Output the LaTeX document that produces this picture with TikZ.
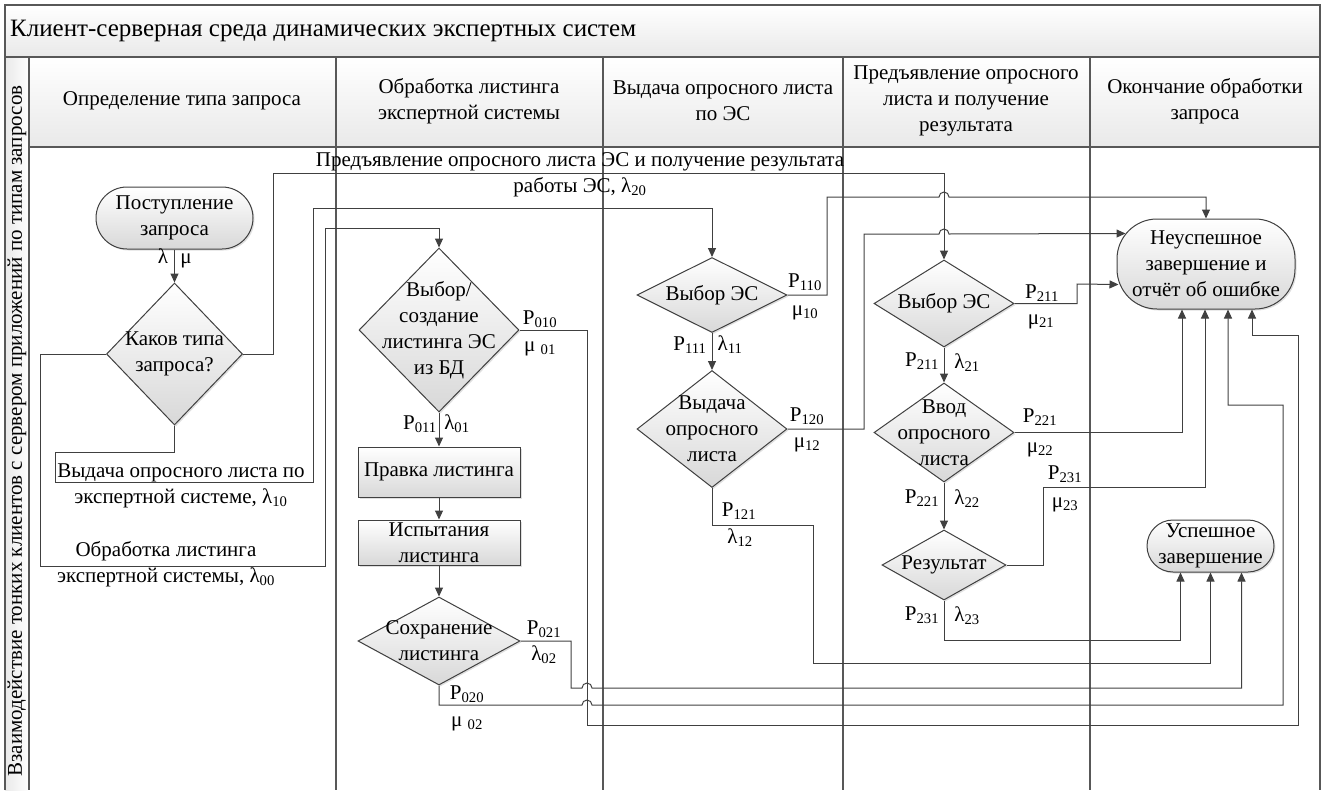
\documentclass[tikz,border=0pt]{standalone}
\usepackage{fontspec}
\setmainfont{Liberation Serif}
\usetikzlibrary{arrows.meta,positioning,calc,shapes.geometric,shadows}
\definecolor{ink}{HTML}{404040}
\definecolor{rule}{HTML}{585858}
\definecolor{shade}{HTML}{D8D8D8}
\definecolor{band}{HTML}{E9E9E9}

\begin{document}
\begin{tikzpicture}[x=1pt,y=-1pt,
  every node/.style={font=\fontsize{21}{26}\selectfont},
  link/.style={draw=ink,line width=1pt},
  flow/.style={link,-{Triangle[length=9pt,width=8pt]}},
  box/.style={draw=ink,line width=1pt,top color=white,bottom color=shade,inner sep=0pt,align=center,
    drop shadow={opacity=.25,shadow xshift=1.5pt,shadow yshift=-1.5pt}},
  proc/.style={box,rectangle,minimum width=162pt},
  dec/.style={box,diamond},
  term/.style={box,rectangle},
  lbl/.style={inner sep=0pt,align=center},
  tag/.style={inner sep=0pt,text height=14pt,text depth=5pt}]
  \useasboundingbox (0,0) rectangle (1322,790);
  \fill[top color=white,bottom color=band] (5,5) rectangle (1320,57);
  \fill[top color=white,bottom color=band] (29,57) rectangle (1320,147);
  \fill[left color=band,right color=white] (5,57) rectangle (29,790);
  \draw[rule,line width=1.2pt] (5,790) -- (5,5) -- (1320,5) -- (1320,790);
  \draw[rule,line width=1.2pt] (5,57) -- (1320,57) (29,57) -- (29,790) (29,147) -- (1320,147);
  \foreach \x in {336,603,843,1090}
    \draw[rule,line width=1.2pt] (\x,57) -- (\x,790);
  \node[lbl,anchor=west,font=\fontsize{25}{30}\selectfont] (title) at (10,31) {Клиент-серверная среда динамических экспертных систем};
  \node[lbl,rotate=90] (side) at (17,431) {Взаимодействие тонких клиентов с сервером приложений по типам запросов};
  \node[lbl] (h1) at (182,101) {Определение типа запроса};
  \node[lbl] (h2) at (469,101) {Обработка листинга\\экспертной системы};
  \node[lbl] (h3) at (723,101) {Выдача опросного листа\\по ЭС};
  \node[lbl] (h4) at (966,101) {Предъявление опросного\\листа и получение\\результата};
  \node[lbl] (h5) at (1205,101) {Окончание обработки\\запроса};

  \node[term,minimum width=157pt,minimum height=62pt,rounded corners=31pt] (start) at (174.5,218) {Поступление\\запроса};
  \node[dec,minimum width=136pt,minimum height=142pt,label={[lbl]center:{Каков типа\\запроса?}}] (q) at (174.5,354) {};
  \node[dec,minimum width=160pt,minimum height=164pt,label={[lbl]center:{Выбор/\\создание\\листинга ЭС\\из БД}}] (sel) at (439,330) {};
  \node[proc,minimum height=50pt,below=34pt of sel] (edit) {Правка листинга};
  \node[proc,minimum height=45pt,below=22pt of edit] (test) {Испытания\\листинга};
  \node[dec,minimum width=162pt,minimum height=88pt,below=31pt of test,label={[lbl]center:{Сохранение\\листинга}}] (sav) {};
  \node[dec,minimum width=150pt,minimum height=75pt,label={[lbl]center:{Выбор ЭС}}] (es1) at (712,295) {};
  \node[dec,minimum width=150pt,minimum height=117pt,below=37pt of es1,label={[lbl]center:{Выдача\\опросного\\листа}}] (iss) {};
  \node[dec,minimum width=140pt,minimum height=87pt,label={[lbl]center:{Выбор ЭС}}] (es2) at (944,303.5) {};
  \node[dec,minimum width=140pt,minimum height=99pt,below=35pt of es2,label={[lbl]center:{Ввод\\опросного\\листа}}] (inp) {};
  \node[dec,minimum width=124pt,minimum height=70pt,below=47pt of inp,label={[lbl]center:{Результат}}] (res) {};
  \node[term,minimum width=178pt,minimum height=90pt,rounded corners=40pt] (fail) at (1206,264) {Неуспешное\\завершение и\\отчёт об ошибке};
  \node[term,minimum width=127pt,minimum height=52pt,rounded corners=26pt] (succ) at (1210.5,546) {Успешное\\завершение};

  \draw[flow] (start) -- (q);
  \draw[flow] (q.west) -| (40,566) -| (325,228) -| (sel.north);
  \draw[flow] (q.south) |- (55,452) |- (313,482) -- (313,208) -| (es1.north);
  \draw[flow] (q.east) -| (273,173) -| (es2.north);
  \draw[flow] (sel) -- (edit);
  \draw[flow] (edit) -- (test);
  \draw[flow] (test) -- (sav);
  \draw[flow] (es1) -- (iss);
  \draw[flow] (es2) -- (inp);
  \draw[flow] (inp) -- (res);
  \draw[flow] (es1.east) -| (827,197) -- (939,197) arc[start angle=180,end angle=0,radius=5pt] -| (fail.north);
  \draw[flow] (iss.east) -| (864,234) -- (939,234) arc[start angle=180,end angle=0,radius=5pt] -- ($(fail.north west)+(9,15)$);
  \draw[flow] (es2.east) -| (1077,284) -- ($(fail.south west)+(2,-25)$);
  \draw[flow] (inp.east) -| ($(fail.south)+(-24,0)$);
  \draw[flow] (res.east) -| (1043,487) -| ($(fail.south)+(-1,0)$);
  \draw[flow] (sav.south) |- (582,705) arc[start angle=180,end angle=0,radius=5pt] -| (1283,405) -| ($(fail.south)+(22,0)$);
  \draw[flow] (sel.east) -| (587,725) -| (1298,335) -| ($(fail.south)+(46,0)$);
  \draw[flow] (iss.south) -- ++(0,37) -| (813,663) -| (succ.south);
  \draw[flow] (res.south) -- ++(0,40) -| ($(succ.south)+(-30,0)$);
  \draw[flow] (sav.east) -| (571,688) -- (582,688) arc[start angle=180,end angle=0,radius=5pt] -| ($(succ.south)+(31,0)$);

  \node[tag] (l0) at (163,259) {λ};
  \node[tag] (m0) at (186,259) {μ};
  \node[lbl] (t00) at (166,564) {Обработка листинга\\экспертной системы, λ\textsubscript{00}};
  \node[lbl] (t10) at (181,486) {Выдача опросного листа по\\экспертной системе, λ\textsubscript{10}};
  \node[lbl] (t20) at (580,175) {Предъявление опросного листа ЭС и получение результата\\работы ЭС, λ\textsubscript{20}};
  \node[tag] (p011) at (420,425) {P\textsubscript{011}};
  \node[tag] (l01) at (457,425) {λ\textsubscript{01}};
  \node[tag] (p010) at (540,320) {P\textsubscript{010}};
  \node[tag] (m01) at (540,347) {μ \textsubscript{01}};
  \node[tag] (p021) at (544,630) {P\textsubscript{021}};
  \node[tag] (l02) at (544,656) {λ\textsubscript{02}};
  \node[tag] (p020) at (467,695) {P\textsubscript{020}};
  \node[tag] (m02) at (467,722) {μ \textsubscript{02}};
  \node[tag] (p111) at (690,346) {P\textsubscript{111}};
  \node[tag] (l11) at (730,346) {λ\textsubscript{11}};
  \node[tag] (p110) at (805,283) {P\textsubscript{110}};
  \node[tag] (m10) at (805,311) {μ\textsubscript{10}};
  \node[tag] (p120) at (807,417) {P\textsubscript{120}};
  \node[tag] (m12) at (807,443) {μ\textsubscript{12}};
  \node[tag] (p121) at (739,512) {P\textsubscript{121}};
  \node[tag] (l12) at (740,539) {λ\textsubscript{12}};
  \node[tag] (p211a) at (922,362) {P\textsubscript{211}};
  \node[tag] (l21) at (967,364) {λ\textsubscript{21}};
  \node[tag] (p211b) at (1042,294) {P\textsubscript{211}};
  \node[tag] (m21) at (1041,320) {μ\textsubscript{21}};
  \node[tag] (p221b) at (1040,418) {P\textsubscript{221}};
  \node[tag] (m22) at (1040,448) {μ\textsubscript{22}};
  \node[tag] (p221a) at (922,499) {P\textsubscript{221}};
  \node[tag] (l22) at (967,500) {λ\textsubscript{22}};
  \node[tag] (p231b) at (1065,475) {P\textsubscript{231}};
  \node[tag] (m23) at (1065,503) {μ\textsubscript{23}};
  \node[tag] (p231a) at (922,616) {P\textsubscript{231}};
  \node[tag] (l23) at (967,617) {λ\textsubscript{23}};
\end{tikzpicture}
\end{document}
